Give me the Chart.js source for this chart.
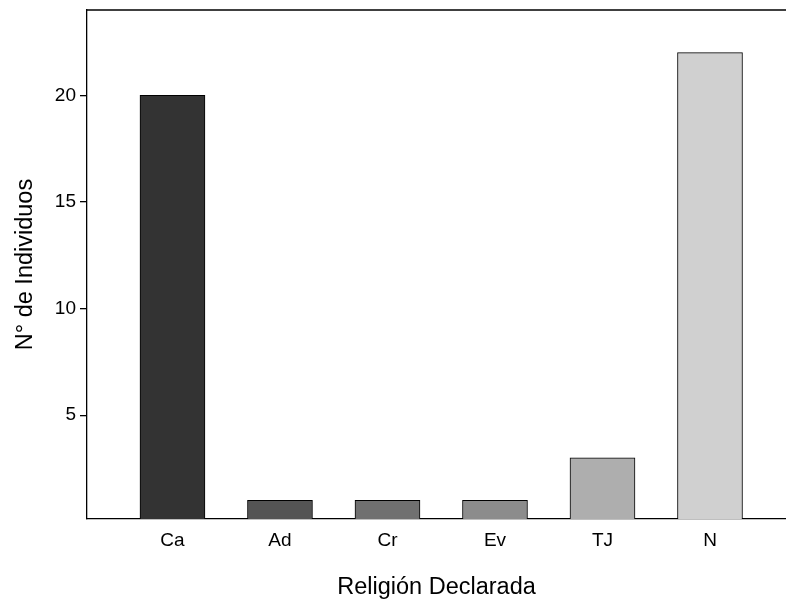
<!DOCTYPE html>
<html>
<head>
<meta charset="utf-8">
<script src="https://cdn.jsdelivr.net/npm/chart.js@4/dist/chart.umd.min.js"></script>
<style>
  html, body { margin: 0; padding: 0; background: #fff; overflow: hidden; }
  canvas { display: block; }
</style>
</head>
<body>
<canvas id="c" width="786" height="604"></canvas>
<script>
const categories = ["Ca", "Ad", "Cr", "Ev", "TJ", "N"];
const counts = [20, 1, 1, 1, 3, 22];
const barColors = ["#333333", "#545454", "#707070", "#8c8c8c", "#aeaeae", "#d0d0d0"];
const yTicks = [5, 10, 15, 20];
const xTitle = "Religión Declarada";
const yTitle = "N° de Individuos";

const FONT = "'Liberation Sans', Arial, sans-serif";

const frameTop = {
  id: 'frameTop',
  afterDraw(chart) {
    const {ctx, chartArea} = chart;
    ctx.save();
    ctx.strokeStyle = '#000';
    ctx.lineWidth = 1.3;
    ctx.beginPath();
    ctx.moveTo(chartArea.left, chartArea.top);
    ctx.lineTo(chartArea.right, chartArea.top);
    ctx.stroke();
    ctx.restore();
  }
};

new Chart(document.getElementById('c'), {
  type: 'bar',
  data: {
    datasets: [{
      data: categories.map((c, i) => ({x: i, y: counts[i]})),
      backgroundColor: barColors,
      borderColor: '#000',
      borderWidth: 1,
      barThickness: 65
    }]
  },
  options: {
    responsive: false,
    animation: false,
    devicePixelRatio: 1,
    layout: { padding: { top: 10, left: 0, right: 0, bottom: 0 } },
    plugins: { legend: { display: false }, tooltip: { enabled: false } },
    scales: {
      x: {
        type: 'linear',
        min: -0.795,
        max: 5.707,
        offset: false,
        afterBuildTicks(scale) { scale.ticks = categories.map((c, i) => ({value: i})); },
        afterFit(scale) { scale.height = 85; scale.paddingLeft = 0; scale.paddingRight = 0; },
        grid: { display: false, drawTicks: false },
        border: { display: true, color: '#000', width: 1.3 },
        ticks: {
          autoSkip: false, maxRotation: 0, padding: 10,
          color: '#000', font: { family: FONT, size: 19 },
          callback: (v) => categories[v]
        },
        title: {
          display: true, text: xTitle, color: '#000',
          font: { family: FONT, size: 23.5 },
          padding: { top: 0, bottom: 2 }
        }
      },
      y: {
        min: 0.13,
        max: 24,
        afterBuildTicks(scale) { scale.ticks = yTicks.map(v => ({value: v})); },
        afterFit(scale) { scale.width = 87; scale.paddingTop = 0; scale.paddingBottom = 0; },
        grid: { display: true, drawOnChartArea: false, drawTicks: true, tickLength: 7, color: '#000', lineWidth: 1.3 },
        border: { display: true, color: '#000', width: 1.3 },
        ticks: { padding: 4, color: '#000', font: { family: FONT, size: 19 } },
        title: {
          display: true, text: yTitle, color: '#000',
          font: { family: FONT, size: 23.5 },
          padding: { top: 11.5, bottom: 0 }
        }
      }
    }
  },
  plugins: [frameTop]
});
</script>
</body>
</html>
